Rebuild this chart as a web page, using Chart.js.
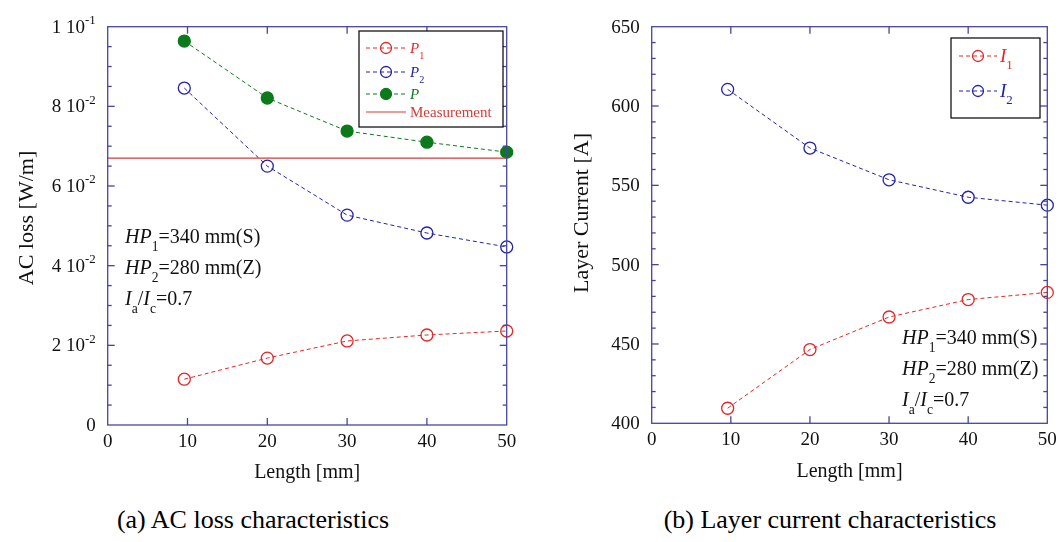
<!DOCTYPE html>
<html><head><meta charset="utf-8">
<script src="https://cdn.jsdelivr.net/npm/chart.js@4.4.0/dist/chart.umd.min.js"></script>
<style>
html,body{margin:0;padding:0;background:#fff;width:1061px;height:542px;overflow:hidden;}
.wrap{position:absolute;top:0;height:490px;}
canvas{display:block;}
.cap{position:absolute;top:505px;font-family:"Liberation Serif","Times New Roman",serif;font-size:26px;color:#000;white-space:nowrap;transform:translateX(-50%);}
</style></head><body>
<div class="wrap" style="left:0;width:530px"><canvas id="c1" width="530" height="490"></canvas></div>
<div class="wrap" style="left:530px;width:531px"><canvas id="c2" width="531" height="490"></canvas></div>
<div class="cap" style="left:253px">(a) AC loss characteristics</div>
<div class="cap" style="left:830px">(b) Layer current characteristics</div>
<script>
// ---------- data ----------
const lengths = [9.6, 20, 30, 40, 50];
const lossP1 = [0.0115, 0.0168, 0.0211, 0.0226, 0.0236];
const lossP2 = [0.0846, 0.0650, 0.0527, 0.0482, 0.0447];
const lossP  = [0.0964, 0.0821, 0.0738, 0.0710, 0.0685];
const measurementLoss = 0.067;
const currentI1 = [409.5, 446.5, 467.0, 478.0, 482.5];
const currentI2 = [610.5, 573.5, 553.5, 542.5, 537.5];

const xTicks = [0, 10, 20, 30, 40, 50];
const xTickLabels = ['0', '10', '20', '30', '40', '50'];
const lossTicks = [0, 0.02, 0.04, 0.06, 0.08, 0.1];
const lossTickMantissa = ['0', '2 10', '4 10', '6 10', '8 10', '1 10'];
const lossTickExponent = ['', '-2', '-2', '-2', '-2', '-1'];
const currentTicks = [400, 450, 500, 550, 600, 650];
const currentTickLabels = ['400', '450', '500', '550', '600', '650'];

// ---------- styles ----------
const RED = '#e02828', BLUE = '#2323a6', GREEN = '#0b7a1c', MEAS = '#d23c3c';
const FRAME = '#4545a0';
const SERIF = '"Liberation Serif","Times New Roman",serif';

function richWidth(ctx, parts, size) {
  let w = 0;
  parts.forEach(p => {
    const s = (p.sub || p.sup) ? size * 0.68 : size;
    ctx.font = (p.italic ? 'italic ' : '') + s + 'px ' + SERIF;
    w += ctx.measureText(p.t).width;
  });
  return w;
}
function drawRich(ctx, x, y, parts, size, color, align) {
  if (align === 'right') x -= richWidth(ctx, parts, size);
  ctx.fillStyle = color; ctx.textAlign = 'left'; ctx.textBaseline = 'alphabetic';
  parts.forEach(p => {
    const s = (p.sub || p.sup) ? size * 0.68 : size;
    ctx.font = (p.italic ? 'italic ' : '') + s + 'px ' + SERIF;
    const dy = p.sub ? size * 0.38 : (p.sup ? -size * 0.45 : 0);
    ctx.fillText(p.t, x, y + dy);
    x += ctx.measureText(p.t).width;
  });
}

const framePlugin = {
  id: 'frame',
  afterDatasetsDraw(chart, args, o) {
    if (!o || !o.xTicks) return;
    const ctx = chart.ctx, a = chart.chartArea, xs = chart.scales.x, ys = chart.scales.y;
    ctx.save();
    ctx.strokeStyle = FRAME; ctx.lineWidth = 1.3; ctx.setLineDash([]);
    const ln = (x1, y1, x2, y2) => { ctx.beginPath(); ctx.moveTo(x1, y1); ctx.lineTo(x2, y2); ctx.stroke(); };
    ctx.strokeRect(a.left, a.top, a.right - a.left, a.bottom - a.top);
    o.xTicks.forEach((v, i) => {
      if (i === 0 || i === o.xTicks.length - 1) return;
      const px = xs.getPixelForValue(v);
      ln(px, a.bottom, px, a.bottom - 7); ln(px, a.top, px, a.top + 7);
    });
    const n = Math.round((o.yMax - o.yMin) / o.yMinor);
    for (let i = 1; i < n; i++) {
      const v = o.yMin + i * o.yMinor;
      const py = ys.getPixelForValue(v);
      const len = (i % o.minorPerMajor === 0) ? 7 : 4;
      ln(a.left, py, a.left + len, py); ln(a.right, py, a.right - len, py);
    }
    // tick labels
    o.xTicks.forEach((v, i) => {
      const px = xs.getPixelForValue(v);
      ctx.font = '19px ' + SERIF; ctx.fillStyle = '#111'; ctx.textAlign = 'center'; ctx.textBaseline = 'alphabetic';
      ctx.fillText(o.xLabels[i], px, a.bottom + 22);
    });
    o.yTicks.forEach((v, i) => {
      const py = ys.getPixelForValue(v);
      const parts = [{ t: o.yLabels[i] }];
      if (o.yExp && o.yExp[i]) parts.push({ t: o.yExp[i], sup: true });
      drawRich(ctx, a.left - 12, py + 6, parts, 19, '#111', 'right');
    });
    // axis titles
    ctx.fillStyle = '#111'; ctx.textAlign = 'center'; ctx.textBaseline = 'middle';
    ctx.font = '20px ' + SERIF;
    ctx.fillText(o.xTitle, (a.left + a.right) / 2, a.bottom + 48);
    ctx.save(); ctx.translate(o.yTitleX, o.yTitleY); ctx.rotate(-Math.PI / 2);
    ctx.font = '22px ' + SERIF; ctx.fillText(o.yTitle, 0, 0); ctx.restore();
    // annotations
    o.notes.forEach(nt => drawRich(ctx, nt.x, nt.y, nt.parts, 20, '#111'));
    // legend
    const L = o.legend;
    ctx.fillStyle = '#fff'; ctx.fillRect(L.x, L.y, L.w, L.h);
    ctx.strokeStyle = '#000'; ctx.lineWidth = 1.2; ctx.strokeRect(L.x, L.y, L.w, L.h);
    L.items.forEach(it => {
      const ds = chart.data.datasets[it.ds];
      ctx.strokeStyle = ds.borderColor; ctx.lineWidth = 1;
      ctx.setLineDash(ds.borderDash || []);
      ln(L.lx1, it.y, L.lx2, it.y);
      ctx.setLineDash([]);
      if (ds.pointRadius > 0) {
        ctx.beginPath(); ctx.arc((L.lx1 + L.lx2) / 2, it.y, 5.5, 0, Math.PI * 2);
        if (ds.pointBackgroundColor !== 'rgba(0,0,0,0)') { ctx.fillStyle = ds.pointBackgroundColor; ctx.fill(); }
        ctx.lineWidth = ds.pointBorderWidth; ctx.strokeStyle = ds.pointBorderColor; ctx.stroke();
      }
      drawRich(ctx, L.tx, it.y + L.size * 0.33, it.parts, L.size, ds.borderColor);
    });
    ctx.restore();
  }
};
Chart.register(framePlugin);

function series(label, xs, ys, color, filled) {
  return {
    label, data: xs.map((x, i) => ({ x, y: ys[i] })),
    borderColor: color, borderWidth: 1, borderDash: [4, 3], tension: 0,
    pointRadius: 6, pointHoverRadius: 6, pointBorderWidth: 1.3,
    pointBorderColor: color, pointBackgroundColor: filled ? color : 'rgba(0,0,0,0)',
    backgroundColor: 'rgba(0,0,0,0)', clip: false
  };
}

const hpNotes = (x, y0, dy) => [
  { x, y: y0, parts: [{ t: 'HP', italic: true }, { t: '1', sub: true }, { t: '=340 mm(S)' }] },
  { x, y: y0 + dy, parts: [{ t: 'HP', italic: true }, { t: '2', sub: true }, { t: '=280 mm(Z)' }] },
  { x, y: y0 + 2 * dy, parts: [{ t: 'I', italic: true }, { t: 'a', sub: true }, { t: '/' }, { t: 'I', italic: true }, { t: 'c', sub: true }, { t: '=0.7' }] }
];

function baseOptions(yMin, yMax, pad, frameOpts) {
  return {
    responsive: false, animation: false, events: [],
    layout: { padding: pad },
    scales: {
      x: { type: 'linear', min: 0, max: 50, display: false },
      y: { type: 'linear', min: yMin, max: yMax, display: false }
    },
    plugins: { legend: { display: false }, tooltip: { enabled: false }, frame: frameOpts }
  };
}

// ---------- chart (a) ----------
const measDs = {
  label: 'Measurement', data: [{ x: 0, y: measurementLoss }, { x: 50, y: measurementLoss }],
  borderColor: MEAS, borderWidth: 1.2, pointRadius: 0, backgroundColor: 'rgba(0,0,0,0)', clip: false
};
new Chart(document.getElementById('c1'), {
  type: 'line',
  data: { datasets: [measDs, series('P1', lengths, lossP1, RED, false), series('P2', lengths, lossP2, BLUE, false), series('P', lengths, lossP, GREEN, true)] },
  options: baseOptions(0, 0.1, { left: 107.7, right: 23.3, top: 26.7, bottom: 65 }, {
    xTicks, xLabels: xTickLabels, yTicks: lossTicks, yLabels: lossTickMantissa, yExp: lossTickExponent,
    yMin: 0, yMax: 0.1, yMinor: 0.005, minorPerMajor: 4,
    xTitle: 'Length [mm]', yTitle: 'AC loss [W/m]', yTitleX: 27, yTitleY: 218,
    notes: hpNotes(125, 243, 31),
    legend: { x: 359, y: 31, w: 144, h: 96, lx1: 366, lx2: 406, tx: 410, size: 15,
      items: [
        { ds: 1, y: 48, parts: [{ t: 'P', italic: true }, { t: '1', sub: true }] },
        { ds: 2, y: 72, parts: [{ t: 'P', italic: true }, { t: '2', sub: true }] },
        { ds: 3, y: 94, parts: [{ t: 'P', italic: true }] },
        { ds: 0, y: 112, parts: [{ t: 'Measurement' }] }
      ] }
  })
});

// ---------- chart (b) ----------
new Chart(document.getElementById('c2'), {
  type: 'line',
  data: { datasets: [series('I1', lengths, currentI1, RED, false), series('I2', lengths, currentI2, BLUE, false)] },
  options: baseOptions(400, 650, { left: 121.7, right: 13.7, top: 26.7, bottom: 66.7 }, {
    xTicks, xLabels: xTickLabels, yTicks: currentTicks, yLabels: currentTickLabels,
    yMin: 400, yMax: 650, yMinor: 10, minorPerMajor: 5,
    xTitle: 'Length [mm]', yTitle: 'Layer Current [A]', yTitleX: 52, yTitleY: 213,
    notes: hpNotes(372, 344, 31),
    legend: { x: 421, y: 38, w: 89, h: 80, lx1: 429, lx2: 467, tx: 470, size: 19,
      items: [
        { ds: 0, y: 56, parts: [{ t: 'I', italic: true }, { t: '1', sub: true }] },
        { ds: 1, y: 91, parts: [{ t: 'I', italic: true }, { t: '2', sub: true }] }
      ] }
  })
});
</script>
</body></html>
